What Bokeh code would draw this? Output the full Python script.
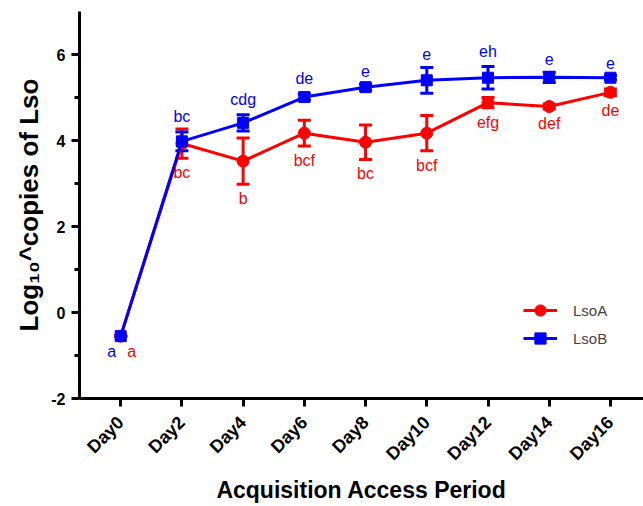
import numpy as np
from bokeh.plotting import figure
from bokeh.models import Range1d, FixedTicker, Whisker, TeeHead, ColumnDataSource, Legend, LegendItem
from bokeh.embed import file_html
from bokeh.resources import INLINE
from bokeh.core.properties import value

days = ["Day0", "Day2", "Day4", "Day6", "Day8", "Day10", "Day12", "Day14", "Day16"]
lsoA_mean = [-0.55, 3.93, 3.52, 4.17, 3.96, 4.17, 4.88, 4.79, 5.12]
lsoA_err = [0.0, 0.34, 0.54, 0.30, 0.40, 0.41, 0.12, 0.06, 0.08]
lsoA_letters = ["a", "bc", "b", "bcf", "bc", "bcf", "efg", "def", "de"]
lsoB_mean = [-0.55, 3.98, 4.41, 5.01, 5.24, 5.40, 5.46, 5.47, 5.46]
lsoB_err = [0.0, 0.22, 0.19, 0.07, 0.07, 0.30, 0.26, 0.12, 0.05]
lsoB_letters = ["a", "bc", "cdg", "de", "e", "e", "eh", "e", "e"]
y_ticks = [-2, 0, 2, 4, 6]

RED = "#FF0000"
BLUE = "#0000FF"
FONT = "Liberation Sans"

xs = list(range(len(days)))

p = figure(width=643, height=506, x_range=Range1d(-0.673, 8.54), y_range=Range1d(-2, 7),
           output_backend="svg", toolbar_location=None,
           min_border_left=79, min_border_right=0, min_border_top=11, min_border_bottom=107)
p.outline_line_color = None
p.xgrid.visible = False
p.ygrid.visible = False

def series(mean, err, color, marker, size):
    src = ColumnDataSource(dict(x=xs, y=mean,
                                upper=[m + e for m, e in zip(mean, err)],
                                lower=[m - e for m, e in zip(mean, err)]))
    w = Whisker(base="x", upper="upper", lower="lower", source=src, line_color=color, line_width=3,
                upper_head=TeeHead(size=13, line_color=color, line_width=3),
                lower_head=TeeHead(size=13, line_color=color, line_width=3))
    p.add_layout(w)
    ln = p.line("x", "y", source=src, line_color=color, line_width=3)
    sc = p.scatter("x", "y", source=src, marker=marker, size=size, fill_color=color, line_color=color)
    return ln, sc

rl, rs = series(lsoA_mean, lsoA_err, RED, "circle", 12)
bl, bs = series(lsoB_mean, lsoB_err, BLUE, "square", 11)

# letter labels
by = [m + e for m, e in zip(lsoB_mean[1:], lsoB_err[1:])]
p.text(x=xs[1:], y=by, text=lsoB_letters[1:], text_align="center", text_baseline="bottom",
       y_offset=-7, text_font=value(FONT), text_font_size="16px", text_color=BLUE)
p.text(x=[xs[0]], y=[lsoB_mean[0] - lsoB_err[0]], text=[lsoB_letters[0]], text_align="center",
       text_baseline="top", x_offset=-9, y_offset=7, text_font=value(FONT), text_font_size="16px",
       text_color=BLUE)
ry = [m - e for m, e in zip(lsoA_mean, lsoA_err)]
xoff = [11] + [0] * (len(xs) - 1)
yoff = [7] + [6] * (len(xs) - 1)
p.text(x=xs, y=ry, text=lsoA_letters, text_align="center", text_baseline="top",
       x_offset=xoff, y_offset=yoff, text_font=value(FONT), text_font_size="16px", text_color=RED)

# axes
for ax in (p.xaxis[0], p.yaxis[0]):
    ax.axis_line_width = 3
    ax.axis_line_color = "black"
    ax.major_tick_line_width = 3
    ax.minor_tick_line_width = 3
    ax.major_tick_in = 0
    ax.minor_tick_in = 0
    ax.major_tick_out = 8
    ax.major_label_text_font = FONT
    ax.major_label_text_font_style = "bold"
    ax.major_label_text_font_size = "16px"
    ax.major_label_text_color = "black"
    ax.axis_label_text_font = FONT
    ax.axis_label_text_font_style = "bold"
    ax.axis_label_text_color = "black"

p.xaxis.ticker = FixedTicker(ticks=xs)
p.xaxis.major_label_overrides = {i: d for i, d in enumerate(days)}
p.xaxis.major_label_orientation = np.pi / 4
p.xaxis.major_label_text_font_size = "18px"
p.xaxis.minor_tick_out = 0
p.xaxis.major_label_standoff = 13
p.xaxis.axis_label = "Acquisition Access Period"
p.xaxis.axis_label_text_font_size = "23px"
p.xaxis.axis_label_standoff = 3

p.yaxis.ticker = FixedTicker(ticks=y_ticks, minor_ticks=[-1, 1, 3, 5])
p.yaxis.major_label_overrides = {t: str(t) for t in y_ticks}
p.yaxis.minor_tick_out = 5
p.yaxis.major_label_standoff = 6
p.yaxis.axis_label = "Log\u2081\u2080^copies of Lso"
p.yaxis.axis_label_text_font_size = "26px"
p.yaxis.axis_label_standoff = 4

legend = Legend(items=[LegendItem(label="LsoA", renderers=[rl, rs]),
                       LegendItem(label="LsoB", renderers=[bl, bs])],
                location=(444, 46), border_line_color=None, background_fill_alpha=0,
                label_text_font=FONT, label_text_font_size="15px", glyph_width=34, glyph_height=28,
                label_height=28, spacing=0, padding=0, margin=0, label_standoff=16)
p.add_layout(legend)

open("out.html", "w").write(file_html(p, INLINE))
